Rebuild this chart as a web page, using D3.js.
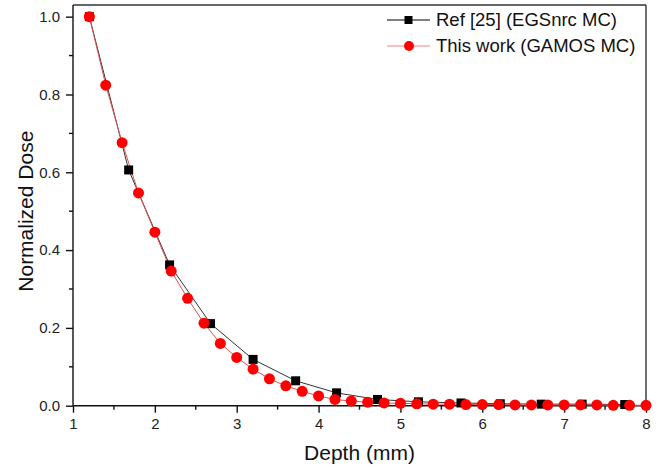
<!DOCTYPE html>
<html>
<head>
<meta charset="utf-8">
<script src="https://cdn.jsdelivr.net/npm/d3@7"></script>
<style>
  body { margin: 0; background: #fff; }
  svg { display: block; font-family: "Liberation Sans", Arial, sans-serif; }
  .axis path, .axis line { stroke: #111; stroke-width: 1.4; }
  .axis text { font-size: 15px; fill: #222; font-family: "Liberation Sans", Arial, sans-serif; }
</style>
</head>
<body>
<svg id="chart"></svg>
<script>
// Ref [25] (EGSnrc MC)
const refDepth = [1.2, 1.68, 2.18, 2.68, 3.2, 3.72, 4.22, 4.72, 5.22, 5.74, 6.22, 6.72, 7.22, 7.74];
const refDose  = [1.0, 0.606, 0.362, 0.211, 0.119, 0.064, 0.033, 0.016, 0.010, 0.007, 0.005, 0.004, 0.004, 0.003];

// This work (GAMOS MC)
const gamosDepth = [1.2, 1.4, 1.6, 1.8, 2.0, 2.2, 2.4, 2.6, 2.8, 3.0, 3.2, 3.4, 3.6, 3.8, 4.0, 4.2, 4.4, 4.6,
                    4.8, 5.0, 5.2, 5.4, 5.6, 5.8, 6.0, 6.2, 6.4, 6.6, 6.8, 7.0, 7.2, 7.4, 7.6, 7.8, 8.0];
const gamosDose  = [1.0, 0.824, 0.676, 0.547, 0.446, 0.346, 0.276, 0.212, 0.160, 0.124, 0.094, 0.069, 0.051, 0.037,
                    0.025, 0.016, 0.012, 0.009, 0.007, 0.006, 0.005, 0.004, 0.004, 0.003, 0.003, 0.003, 0.002, 0.002,
                    0.002, 0.002, 0.002, 0.002, 0.001, 0.001, 0.001];

const xTicks = [1, 2, 3, 4, 5, 6, 7, 8];
const xMinor = [1.5, 2.5, 3.5, 4.5, 5.5, 6.5, 7.5];
const yTicks = [0, 0.2, 0.4, 0.6, 0.8, 1.0];
const yMinor = [0.1, 0.3, 0.5, 0.7, 0.9];

const seriesNames = ['Ref [25] (EGSnrc MC)', 'This work (GAMOS MC)'];

const W = 658, H = 470;
const margin = {top: 5, right: 12, bottom: 64.3, left: 73};
const width = W - margin.left - margin.right;
const height = H - margin.top - margin.bottom;

const svg = d3.select('#chart').attr('width', W).attr('height', H);
const g = svg.append('g').attr('transform', `translate(${margin.left},${margin.top})`);

const x = d3.scaleLinear().domain([1, 8]).range([0, width]);
const y = d3.scaleLinear().domain([0, 1.03]).range([height, 0]);

// frame top/right
g.append('line').attr('x1', 0).attr('x2', width).attr('y1', 0).attr('y2', 0)
  .attr('stroke', '#333').attr('stroke-width', 1.4);
g.append('line').attr('x1', width).attr('x2', width).attr('y1', 0).attr('y2', height)
  .attr('stroke', '#333').attr('stroke-width', 1.4);

// axes
const xAxisG = g.append('g').attr('class', 'axis')
  .attr('transform', `translate(0,${height})`)
  .call(d3.axisBottom(x).tickValues(xTicks).tickFormat(d3.format('d')).tickSize(7).tickSizeOuter(0).tickPadding(6));
xAxisG.selectAll('.minor').data(xMinor).join('line')
  .attr('class', 'minor').attr('x1', d => x(d)).attr('x2', d => x(d))
  .attr('y1', 0).attr('y2', 4).attr('stroke', '#111').attr('stroke-width', 1.4);

const yAxisG = g.append('g').attr('class', 'axis')
  .call(d3.axisLeft(y).tickValues(yTicks).tickFormat(d3.format('.1f')).tickSize(7).tickSizeOuter(0).tickPadding(6));
yAxisG.selectAll('.minor').data(yMinor).join('line')
  .attr('class', 'minor').attr('y1', d => y(d)).attr('y2', d => y(d))
  .attr('x1', 0).attr('x2', -4).attr('stroke', '#111').attr('stroke-width', 1.4);
// extend domain lines over whole plot
xAxisG.select('.domain').attr('d', `M0,0H${width}`);
yAxisG.select('.domain').attr('d', `M0,${height}V0`);

// axis titles
svg.append('text')
  .attr('x', margin.left + x(4.5))
  .attr('y', 460)
  .attr('text-anchor', 'middle')
  .style('font-size', '21px').style('fill', '#111')
  .text('Depth (mm)');

svg.append('text')
  .attr('transform', `translate(33,${margin.top + y(0.5)}) rotate(-90)`)
  .attr('text-anchor', 'middle')
  .style('font-size', '21px').style('fill', '#111')
  .text('Normalized Dose');

const refData = refDepth.map((d, i) => ({x: d, y: refDose[i]}));
const gamosData = gamosDepth.map((d, i) => ({x: d, y: gamosDose[i]}));

const line = d3.line().x(d => x(d.x)).y(d => y(d.y));

// series lines
g.append('path').datum(refData)
  .attr('fill', 'none').attr('stroke', '#333').attr('stroke-width', 1).attr('d', line);
g.append('path').datum(gamosData)
  .attr('fill', 'none').attr('stroke', '#e05050').attr('stroke-width', 1).attr('d', line);

// markers
g.selectAll('.sq').data(refData).join('rect')
  .attr('class', 'sq')
  .attr('x', d => x(d.x) - 4.5).attr('y', d => y(d.y) - 4.5)
  .attr('width', 9).attr('height', 9)
  .attr('fill', '#000');

g.selectAll('.dot').data(gamosData).join('circle')
  .attr('class', 'dot')
  .attr('cx', d => x(d.x)).attr('cy', d => y(d.y))
  .attr('r', 5.5)
  .attr('fill', '#ff0000');

// legend
const legend = svg.append('g').attr('transform', 'translate(387,0)');
const rows = [20, 46];
seriesNames.forEach((name, i) => {
  const row = legend.append('g').attr('transform', `translate(0,${rows[i]})`);
  row.append('line').attr('x1', 0).attr('x2', 43).attr('y1', 0).attr('y2', 0)
    .attr('stroke', i === 0 ? '#000' : '#f08080').attr('stroke-width', 1);
  if (i === 0) {
    row.append('rect').attr('x', 17.5).attr('y', -4).attr('width', 8).attr('height', 8).attr('fill', '#000');
  } else {
    row.append('circle').attr('cx', 22).attr('cy', 0).attr('r', 5).attr('fill', '#ff0000');
  }
  row.append('text').attr('x', 49).attr('y', 0).attr('dy', '0.35em')
    .style('font-size', '18.5px').style('fill', '#111')
    .text(name);
});
</script>
</body>
</html>
